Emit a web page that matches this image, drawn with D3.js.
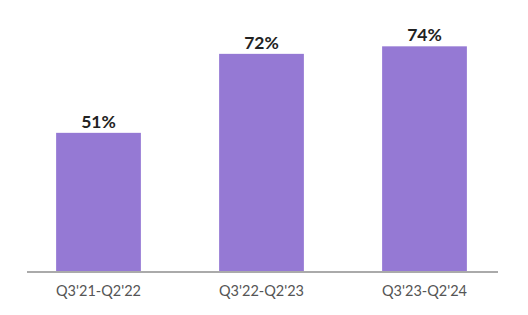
<!DOCTYPE html>
<html>
<head>
<meta charset="utf-8">
<script src="https://cdn.jsdelivr.net/npm/d3@7"></script>
<style>
  body { margin: 0; background: #fff; }
</style>
</head>
<body>
<div id="chart"></div>
<script>
var periods = ["Q3'21-Q2'22", "Q3'22-Q2'23", "Q3'23-Q2'24"];
var shares = [51, 72, 74];
var shareLabels = ["51%", "72%", "74%"];

function drawChart() {
    var width = 528, height = 315;
    var baseY = 272;

    var svg = d3.select('#chart')
        .append('svg')
        .attr('width', width)
        .attr('height', height);

    var x = d3.scaleBand()
        .domain(periods)
        .range([17, 506])
        .paddingInner(0.48)
        .paddingOuter(0.24);

    // the picture's baseline isn't at zero, fitted to the bars
    var y = d3.scaleLinear()
        .domain([14, 81])
        .range([baseY, 20]);

    var data = periods.map(function (p, i) {
        return { period: p, value: shares[i], label: shareLabels[i] };
    });

    svg.selectAll('rect.bar')
        .data(data)
        .enter().append('rect')
        .attr('class', 'bar')
        .attr('x', function (d) { return x(d.period); })
        .attr('width', x.bandwidth())
        .attr('y', function (d) { return y(d.value); })
        .attr('height', function (d) { return baseY - y(d.value); })
        .attr('fill', '#9579d4');

    svg.selectAll('text.val')
        .data(data)
        .enter().append('text')
        .attr('class', 'val')
        .attr('x', function (d) { return x(d.period) + x.bandwidth() / 2; })
        .attr('y', function (d) { return y(d.value) - 5; })
        .attr('text-anchor', 'middle')
        .attr('font-family', 'Lato, sans-serif')
        .attr('font-weight', 'bold')
        .attr('font-size', 17.5)
        .attr('fill', '#222')
        .text(function (d) { return d.label; });

    var xAxis = d3.axisBottom(x).tickSize(0).tickPadding(14);

    var ax = svg.append('g')
        .attr('transform', 'translate(0,' + baseY + ')')
        .call(xAxis);

    ax.select('.domain').remove();
    ax.append('line')
        .attr('x1', 27).attr('x2', 498)
        .attr('stroke', '#aaaaaa')
        .attr('stroke-width', 2);

    ax.selectAll('.tick text')
        .attr('font-family', 'Lato, sans-serif')
        .attr('font-size', 14.5)
        .attr('fill', '#555');
}

drawChart();
</script>
</body>
</html>
